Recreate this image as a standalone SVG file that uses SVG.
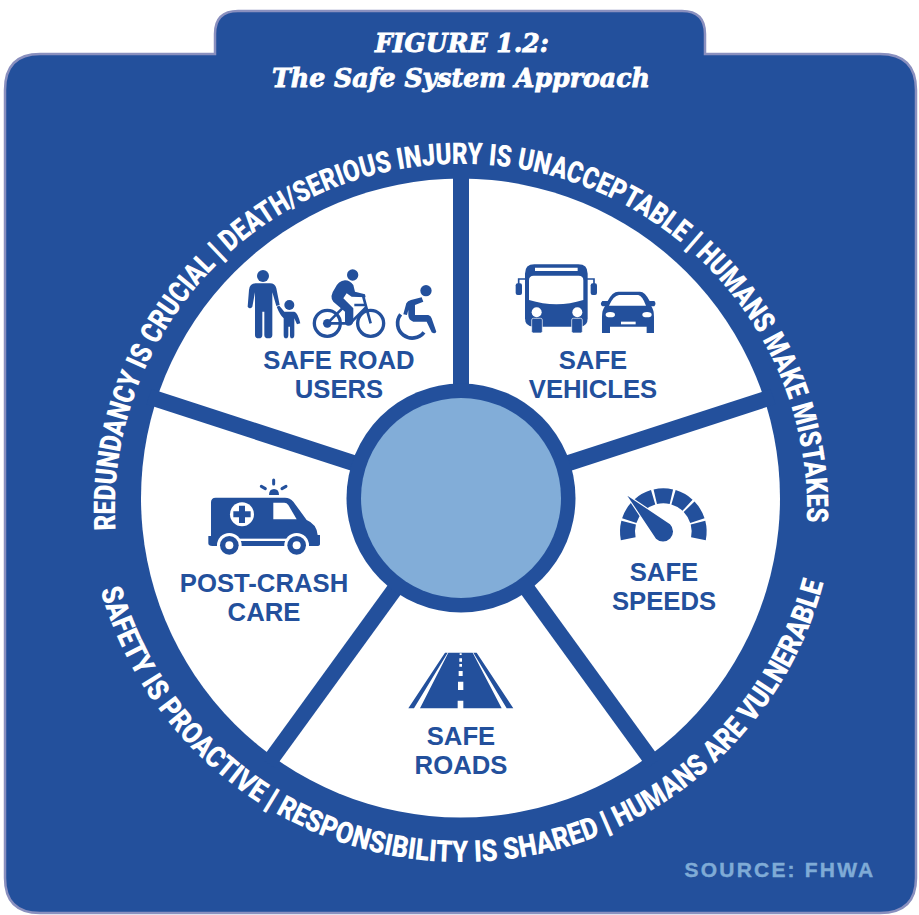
<svg xmlns="http://www.w3.org/2000/svg" xmlns:xlink="http://www.w3.org/1999/xlink" width="919" height="915" viewBox="0 0 919 915">
<style>
.b{fill:#23509c}.w{fill:#fff}
.t{font-family:"DejaVu Serif",serif;font-weight:700;font-style:italic;font-size:26px;fill:#fff;stroke:#fff;stroke-width:.9;text-anchor:middle}
.l{font-family:"Liberation Sans",Arial,sans-serif;font-weight:700;font-size:25.7px;fill:#23509c;text-anchor:middle}
.a{font-family:Roboto,"Liberation Sans",sans-serif;font-weight:900;font-size:30px;fill:#fff}
.bar{stroke:#fff;stroke-width:1.4}
.s{fill:none;stroke:#23509c}
.k{stroke:#23509c;stroke-width:16;fill:none}
</style>
<defs>
<path id="arcTop" d="M115.6 530A346 346 0 1 1 806.8 522"/>
<path id="arcBot" d="M100.4 590A375 375 0 0 0 823.8 582"/>
<path id="seg" d="M-29.2-126.7A130 130 0 0 1 29.2-126.7L19.1-82.8A85 85 0 0 0-19.1-82.8Z"/>
</defs>
<g id="panel">
<path d="M215 54V34Q215 11 238 11H682Q705 11 705 34V54H880Q916 54 916 90V878Q916 913 880 913H40Q5 913 5 878V90Q5 54 40 54Z" fill="#23509c" stroke="#8a90bf" stroke-width="2.5"/>
<text class="t" x="462" y="52" textLength="174" lengthAdjust="spacingAndGlyphs">FIGURE 1.2:</text>
<text class="t" x="461" y="87" textLength="378" lengthAdjust="spacingAndGlyphs">The Safe System Approach</text>
<text x="780" y="877" text-anchor="middle" font-family="Liberation Sans,sans-serif" font-weight="700" font-size="21" fill="#7fabd6" stroke="#7fabd6" stroke-width=".4" letter-spacing="2.2">SOURCE: FHWA</text>
</g>
<g id="wheel"><circle cx="460.5" cy="498" r="319.5" class="w"/></g>
<g id="connectors">
<path class="k" d="M461 498V170" transform="rotate(0 461 498)"/>
<path class="k" d="M461 498V170" transform="rotate(72 461 498)"/>
<path class="k" d="M461 498V170" transform="rotate(144 461 498)"/>
<path class="k" d="M461 498V170" transform="rotate(216 461 498)"/>
<path class="k" d="M461 498V170" transform="rotate(288 461 498)"/>
</g>
<g id="hub">
<circle cx="461" cy="498" r="114.5" class="b"/>
<circle cx="461" cy="498" r="100" fill="#82add8"/>
</g>
<g id="arc-text">
<text class="a" textLength="1119" lengthAdjust="spacingAndGlyphs"><textPath href="#arcTop">REDUNDANCY IS CRUCIAL <tspan class="bar">|</tspan> DEATH/SERIOUS INJURY IS UNACCEPTABLE <tspan class="bar">|</tspan> HUMANS MAKE MISTAKES</textPath></text>
<text class="a" textLength="977" lengthAdjust="spacingAndGlyphs"><textPath href="#arcBot">SAFETY IS PROACTIVE <tspan class="bar">|</tspan> RESPONSIBILITY IS SHARED <tspan class="bar">|</tspan> HUMANS ARE VULNERABLE</textPath></text>
</g>
<g id="safe-road-users">
<g transform="translate(235 255) scale(.3333)" class="b">
<circle cx="84" cy="63" r="18"/>
<path d="M62 85H105Q120 85 124 100L134 150L124 153L112 112V240Q112 250 100 250Q88 250 88 240V170H82V240Q82 250 71 250Q60 250 60 240V112L52 155Q45 165 38 155L42 105Q44 85 62 85Z"/>
<circle cx="163" cy="150" r="15"/>
<path d="M125 155L133 152L148 170H178Q188 172 196 205L186 208L178 190V240Q178 250 170 250Q165 250 165 240V215H160V240Q160 250 153 250Q146 250 146 240V190Q135 180 125 155Z"/>
<circle cx="353" cy="60" r="17"/>
<path d="M300 100Q310 78 330 76Q345 76 355 90L360 110L390 118L392 127L350 125L335 115L325 130L355 160V200Q352 212 340 212Q330 212 330 200V170L295 140Q282 125 300 100Z"/>
<circle class="s" cx="277" cy="205" r="39" stroke-width="10"/>
<circle class="s" cx="407" cy="205" r="39" stroke-width="10"/>
<circle cx="277" cy="205" r="13"/>
<path class="s" stroke-width="8" d="M277 205H345L395 155M277 205L322 160M358 150H392M385 125L407 205"/>
<circle cx="573" cy="107" r="17"/>
<path d="M528 135L560 127L565 140L540 150V180H580Q588 182 590 190L604 230Q600 238 590 232L575 200H535Q520 195 520 180V165L516 180L505 178L514 145Q518 137 528 135Z"/>
<path class="s" stroke-width="11" d="M497 178A39 39 0 0 0 567 232"/>
</g>
<text class="l" x="339" y="369">SAFE ROAD</text>
<text class="l" x="339" y="398">USERS</text>
</g>
<g id="safe-vehicles">
<g transform="translate(505 255) scale(.3333)" class="b">
<path d="M88 28H220Q248 28 248 56V190Q248 215 225 215H85Q60 215 60 190V56Q60 28 88 28Z"/>
<path class="w" d="M90 38H218V48H90ZM72 76Q72 62 86 62H221Q235 62 235 76V135Q155 160 72 135Z"/>
<circle class="w" cx="95" cy="172" r="15"/><circle class="w" cx="217" cy="172" r="15"/>
<rect x="80" y="190" width="32" height="44" rx="5" stroke="#fff" stroke-width="2"/>
<rect x="200" y="190" width="32" height="44" rx="5" stroke="#fff" stroke-width="2"/>
<path class="s" stroke-width="5" d="M62 72H41V88M246 72H267V88"/>
<rect x="32" y="85" width="19" height="35" rx="6"/><rect x="257" y="85" width="19" height="35" rx="6"/>
<path d="M340 110H405Q420 110 434 138H448Q455 145 448 154H439Q447 165 447 185V234H425V215H315V234H291V185Q291 165 300 154H292Q283 147 292 138H308Q322 110 340 110Z"/>
<path class="w" d="M342 120H400Q412 122 423 152H312Q325 122 342 120Z"/>
<ellipse class="w" cx="316" cy="179" rx="14" ry="8"/><ellipse class="w" cx="426" cy="179" rx="14" ry="8"/>
<rect class="w" x="348" y="200" width="44" height="8"/>
</g>
<text class="l" x="593" y="369">SAFE</text>
<text class="l" x="593" y="398">VEHICLES</text>
</g>
<g id="safe-speeds">
<g transform="translate(600 480) scale(.3333)" class="b">
<g transform="translate(190 155)">
<use href="#seg" transform="rotate(-88.5)"/><use href="#seg" transform="rotate(-59)"/><use href="#seg" transform="rotate(-29.5)"/><use href="#seg"/><use href="#seg" transform="rotate(29.5)"/><use href="#seg" transform="rotate(59)"/><use href="#seg" transform="rotate(88.5)"/>
</g>
<path d="M82 47L210 133A30 30 0 0 1 168 176Z" stroke="#fff" stroke-width="7" paint-order="stroke"/>
</g>
<text class="l" x="664" y="581">SAFE</text>
<text class="l" x="664" y="610">SPEEDS</text>
</g>
<g id="safe-roads">
<g transform="translate(400 640) scale(.3333)" class="b">
<path d="M145 38H218L305 205H190V182H173V205H60ZM135 38H143L42 205H25ZM220 38H230L340 205H320Z"/>
<path class="w" d="M179 40H185V45H179ZM178 55H186V65H178ZM178 72H186V80H178ZM176 93H188V108H176ZM174 125H190V150H174Z"/>
</g>
<text class="l" x="461" y="745">SAFE</text>
<text class="l" x="461" y="774">ROADS</text>
</g>
<g id="post-crash-care">
<g transform="translate(195 470) scale(.3333)" class="b">
<path d="M62 83H270Q285 83 295 95L335 150Q365 162 368 195H375V222Q375 228 365 228H52Q40 228 40 220V198H48V97Q48 83 62 83Z"/>
<circle cx="103" cy="226" r="37" class="w"/><circle cx="305" cy="226" r="37" class="w"/>
<circle cx="103" cy="226" r="28"/><circle cx="305" cy="226" r="28"/>
<circle cx="103" cy="226" r="12" class="w"/><circle cx="305" cy="226" r="12" class="w"/>
<rect class="w" x="132" y="206" width="142" height="7"/>
<path class="w" d="M235 98H268Q275 98 280 105L305 148H235Z"/>
<circle class="w" cx="141" cy="133" r="36"/>
<path d="M132 107H150V124H167V142H150V159H132V142H115V124H132Z"/>
<path d="M222 75Q222 57 237 57Q252 57 252 75Z"/>
<path class="s" stroke-width="9" stroke-linecap="round" d="M236 30V42M199 49L211 56M273 49L261 56"/>
</g>
<text class="l" x="264" y="592">POST-CRASH</text>
<text class="l" x="264" y="621">CARE</text>
</g>
</svg>
